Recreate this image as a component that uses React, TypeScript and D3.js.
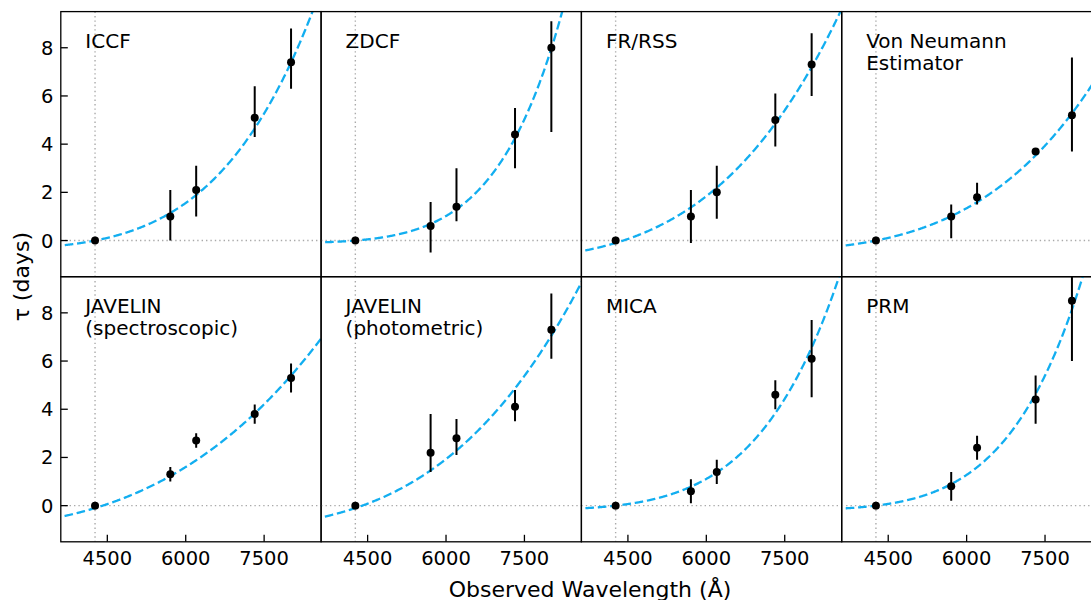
import React from "react";
import * as d3 from "d3";

// ---- data ----
const wavelengths = [4265, 5705, 6200, 7320, 8015];
const refWavelength = 4265;
const methods = [
  ["ICCF"],
  ["ZDCF"],
  ["FR/RSS"],
  ["Von Neumann", "Estimator"],
  ["JAVELIN", "(spectroscopic)"],
  ["JAVELIN", "(photometric)"],
  ["MICA"],
  ["PRM"],
];
const lags = [
  [0, 1.0, 2.1, 5.1, 7.4],
  [0, 0.6, 1.4, 4.4, 8.0],
  [0, 1.0, 2.0, 5.0, 7.3],
  [0, 1.0, 1.8, 3.7, 5.2],
  [0, 1.3, 2.7, 3.8, 5.3],
  [0, 2.2, 2.8, 4.1, 7.3],
  [0, 0.6, 1.4, 4.6, 6.1],
  [0, 0.8, 2.4, 4.4, 8.5],
];
const errUpper = [
  [0, 1.1, 1.0, 1.3, 1.4],
  [0, 1.0, 1.6, 1.1, 1.1],
  [0, 1.1, 1.1, 1.1, 1.3],
  [0, 0.5, 0.6, 0.1, 2.4],
  [0, 0.3, 0.3, 0.4, 0.6],
  [0, 1.6, 0.8, 0.7, 1.5],
  [0, 0.5, 0.5, 0.6, 1.6],
  [0, 0.6, 0.5, 1.0, 1.5],
];
const errLower = [
  [0, 1.0, 1.1, 0.8, 1.1],
  [0, 1.1, 0.6, 1.4, 3.5],
  [0, 1.1, 1.1, 1.1, 1.3],
  [0, 0.9, 0.3, 0.1, 1.5],
  [0, 0.3, 0.3, 0.4, 0.6],
  [0, 0.8, 0.7, 0.6, 1.2],
  [0, 0.5, 0.5, 0.6, 1.6],
  [0, 0.6, 0.5, 1.0, 2.5],
];
// power-law fit parameters: tau = offset + amp * ((lambda/lambda0)^index - 1)
const fitAmplitude = [0.376, 0.1107, 0.73, 0.46, 0.906, 0.883, 0.185, 0.189];
const fitIndex = [4.8, 6.8, 3.8, 4.0, 3.1, 3.5, 5.7, 6.0];
const fitOffset = [0, 0, -0.1, 0, -0.1, -0.1, 0, 0];
const xTicks = [4500, 6000, 7500];
const yTicks = [0, 2, 4, 6, 8];
const xDomain = [3610, 8590];
const yDomain = [-1.5, 9.5];

const FONT = "DejaVu Sans, sans-serif";

export default function App() {
  const W = 1091;
  const Hsvg = 600;
  const left = 60.8;
  const top = 11.6;
  const pw = 260.3;
  const ph = 265.1;
  const curveColor = "#12aef0";

  const x = d3.scaleLinear().domain(xDomain).range([0, pw]);
  const y = d3.scaleLinear().domain(yDomain).range([ph, 0]);

  const curveLams = d3.range(3450, 9200, 10);

  const panels = methods.map((label, i) => {
    const row = Math.floor(i / 4);
    const col = i % 4;
    const px = left + col * pw;
    const py = top + row * ph;
    const model = curveLams.map((l) => [
      l,
      fitOffset[i] + fitAmplitude[i] * (Math.pow(l / refWavelength, fitIndex[i]) - 1),
    ]);
    const line = d3
      .line<number[]>()
      .x((d) => x(d[0]))
      .y((d) => y(Math.max(-5, Math.min(15, d[1]))));
    const clipId = `clip${i}`;
    return (
      <g key={i} transform={`translate(${px},${py})`}>
        <defs>
          <clipPath id={clipId}>
            <rect x={0} y={0} width={pw} height={ph} />
          </clipPath>
        </defs>
        <g clipPath={`url(#${clipId})`}>
          <line
            x1={x(refWavelength)}
            x2={x(refWavelength)}
            y1={0}
            y2={ph}
            stroke="#aaaaaa"
            strokeWidth={1.4}
            strokeDasharray="1.4,3"
          />
          <line
            x1={0}
            x2={pw}
            y1={y(0)}
            y2={y(0)}
            stroke="#aaaaaa"
            strokeWidth={1.4}
            strokeDasharray="1.4,3"
          />
          <path
            d={line(model) || ""}
            fill="none"
            stroke={curveColor}
            strokeWidth={2.3}
            strokeDasharray="8.6,3.8"
          />
          {wavelengths.map((l, j) => (
            <line
              key={"e" + j}
              x1={x(l)}
              x2={x(l)}
              y1={y(lags[i][j] + errUpper[i][j])}
              y2={y(lags[i][j] - errLower[i][j])}
              stroke="#000"
              strokeWidth={2}
            />
          ))}
          {wavelengths.map((l, j) => (
            <circle key={"p" + j} cx={x(l)} cy={y(lags[i][j])} r={4} fill="#000" />
          ))}
        </g>
        <rect x={0} y={0} width={pw} height={ph} fill="none" stroke="#000" strokeWidth={1.3} />
        <text x={24.5} y={36.7} fontFamily={FONT} fontSize={20} fill="#000">
          {label.map((t, k) => (
            <tspan key={k} x={24.5} dy={k === 0 ? 0 : 22}>
              {t}
            </tspan>
          ))}
        </text>
        {col === 0 &&
          yTicks.map((t) => (
            <g key={"yt" + t}>
              <line x1={0} x2={7} y1={y(t)} y2={y(t)} stroke="#000" strokeWidth={1.3} />
              <text
                x={-7.5}
                y={y(t)}
                dy="0.36em"
                textAnchor="end"
                fontFamily={FONT}
                fontSize={19.5}
                fill="#000"
              >
                {t}
              </text>
            </g>
          ))}
        {row === 1 &&
          xTicks.map((t) => (
            <g key={"xt" + t}>
              <line x1={x(t)} x2={x(t)} y1={ph} y2={ph - 7} stroke="#000" strokeWidth={1.3} />
              <text
                x={x(t)}
                y={ph + 23.5}
                textAnchor="middle"
                fontFamily={FONT}
                fontSize={19.5}
                fill="#000"
              >
                {t}
              </text>
            </g>
          ))}
      </g>
    );
  });

  return (
    <svg
      width={W}
      height={Hsvg}
      style={{ position: "absolute", left: 0, top: 0, display: "block", background: "#fff" }}
    >
      <rect x={0} y={0} width={W} height={Hsvg} fill="#fff" />
      {panels}
      <text
        x={590}
        y={597}
        textAnchor="middle"
        fontFamily={FONT}
        fontSize={22}
        fill="#000"
      >
        Observed Wavelength (Å)
      </text>
      <text
        transform={`translate(28.5,${top + ph}) rotate(-90)`}
        textAnchor="middle"
        fontFamily={FONT}
        fontSize={22}
        fill="#000"
      >
        τ (days)
      </text>
    </svg>
  );
}
